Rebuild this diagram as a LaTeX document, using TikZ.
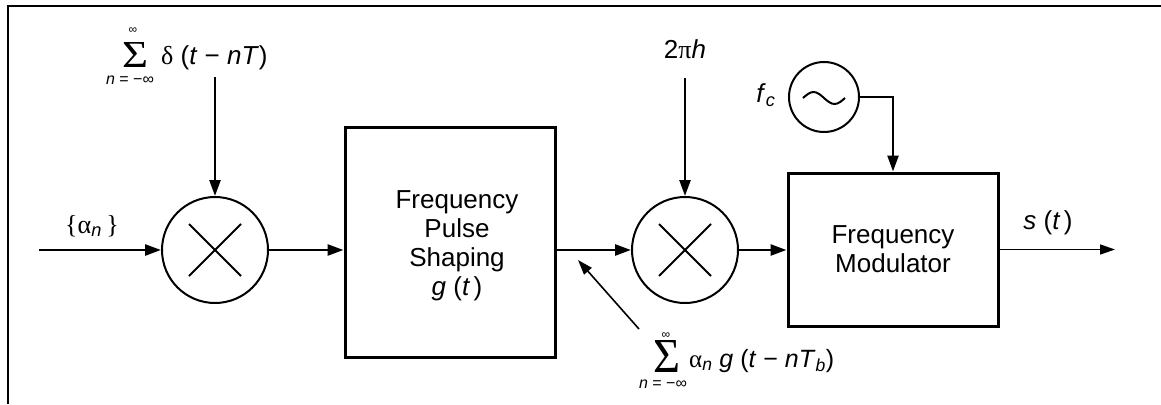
\documentclass[tikz,border=0pt]{standalone}
\usepackage{fontspec}
\usepackage{graphicx}
\setmainfont{Liberation Sans}
\newfontfamily\gk{Liberation Serif}
\usetikzlibrary{arrows.meta,calc}
\begin{document}
\begin{tikzpicture}[x=1pt,y=-1pt,
  blk/.style={draw,line width=3pt,minimum width=210pt,inner sep=0pt,align=center,font=\fontsize{26}{29}\selectfont},
  mult/.style={draw,circle,line width=2pt,minimum size=106pt,inner sep=0pt},
  sig/.style={line width=2.5pt,-{Triangle[length=16pt,width=11pt]}},
  thinsig/.style={line width=1.6pt,-{Triangle[length=15pt,width=10pt]}},
  lbl/.style={inner sep=0pt,font=\fontsize{26}{29}\selectfont},
  lim/.style={inner sep=0pt,font=\fontsize{16}{16}\selectfont},
  infty/.style={inner sep=0pt,font=\fontsize{12}{12}\selectfont},
  crossx/.style={line width=2pt}]
\useasboundingbox (0,0) rectangle (1161,404);
% frame
\draw[line width=2pt] (8,404) -- (8,6) -- (1161,6);

% blocks
\node[mult] (c1) at (215,250) {};
\node[blk,minimum height=230pt] (pulse) at (450,242) {};
\node[lbl,align=center] (pulsetxt) at (457,246) {Frequency\\Pulse\\Shaping\\\textit{g} (\textit{t\,})};
\node[mult] (c2) at (685,250) {};
\node[blk,minimum height=153pt] (fm) at (893,249.5) {Frequency\\Modulator};
\node[draw,circle,line width=2pt,minimum size=70pt,inner sep=0pt] (osc) at (824,97) {};

% crosses and tilde
\draw[crossx] ($(c1.center)+(-26,-26)$) -- ($(c1.center)+(26,26)$);
\draw[crossx] ($(c1.center)+(-26,26)$) -- ($(c1.center)+(26,-26)$);
\draw[crossx] ($(c2.center)+(-26,-26)$) -- ($(c2.center)+(26,26)$);
\draw[crossx] ($(c2.center)+(-26,26)$) -- ($(c2.center)+(26,-26)$);
\draw[line width=2pt] ($(osc.center)+(-21,1)$) sin ++(10.5,-6) cos ++(10.5,6) sin ++(10.5,6) cos ++(10.5,-6);

% labels
\node[lbl] (alpha) at (92,226) {{\gk\{α}\textsubscript{\textit{n}}\,{\gk\}}};
\node[inner sep=0pt] (sum1) at (135,54.5) {\resizebox{26pt}{25pt}{\gk Σ}};
\node[infty] (inf1) at (133,31) {∞};
\node[lim] (low1) at (130,80) {\textit{n} = −∞};
\node[lbl,anchor=base west] (delta) at (161,65) {{\gk δ} (\textit{t} − \textit{nT})};
\node[lbl] (twopih) at (685,49) {2{\gk π}\textit{h}};
\node[lbl] (fc) at (766,95) {\textit{f}\textsubscript{\textit{c}}};
\node[lbl] (st) at (1048,223) {\textit{s} (\textit{t\,})};
\node[inner sep=0pt] (sum2) at (666.5,356) {\resizebox{27pt}{32pt}{\gk Σ}};
\node[infty] (inf2) at (666,336) {∞};
\node[lim] (low2) at (663,384) {\textit{n} = −∞};
\node[lbl,anchor=base west,font=\fontsize{25}{29}\selectfont] (sumexp) at (689,367) {{\gk α}\textsubscript{\textit{n}} \textit{g} (\textit{t} − \textit{nT}\textsubscript{\textit{b}})};

% free ends
\coordinate (in) at (39,250);
\coordinate (top1) at (215,77);
\coordinate (top2) at (685,78);
\coordinate (out) at (1115,249.5);
\coordinate (dtail) at (639,329);
\coordinate (dhead) at (578,260);

% connectors
\draw[sig] (in) -- (c1.west);
\draw[sig] (top1) -- (c1.north);
\draw[sig] (c1.east) -- (c1 -| pulse.west);
\draw[sig] (c2 -| pulse.east) -- (c2.west);
\draw[sig] (top2) -- (c2.north);
\draw[sig] (c2.east) -- (c2 -| fm.west);
\draw[sig] (osc.east) -| (fm.north);
\draw[thinsig] (fm.east) -- (out);
\draw[thinsig] (dtail) -- (dhead);
\end{tikzpicture}
\end{document}
